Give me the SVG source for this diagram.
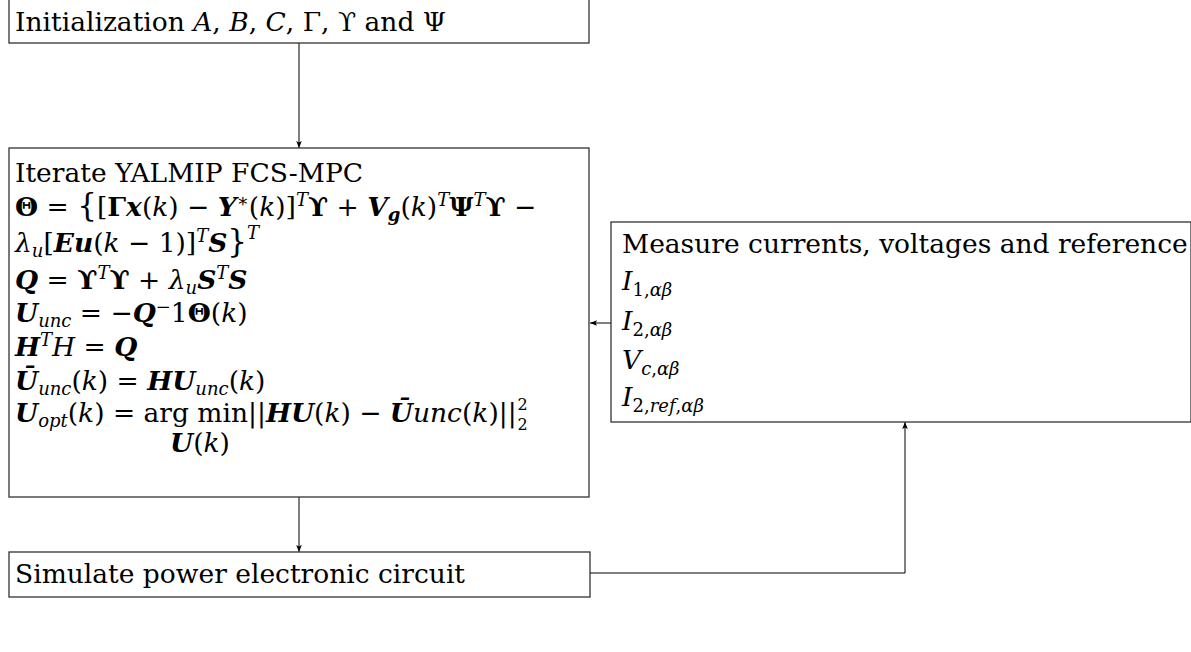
<svg xmlns="http://www.w3.org/2000/svg" width="1191" height="652" viewBox="0 0 1191 652">
<style>
.box{fill:#fff;stroke:#333;stroke-width:1.3}
.t{font-family:"DejaVu Serif",serif;font-size:26.5px;fill:#000}
.i{font-style:italic}
.b{font-weight:bold;font-style:italic}
.B{font-weight:bold}
.s{font-size:18px}
.c{fill:none;stroke:#000;stroke-width:1}
</style>
<defs>
<marker id="ah" viewBox="0 0 10 10" refX="10" refY="5" markerWidth="7" markerHeight="7" orient="auto" markerUnits="userSpaceOnUse">
<path d="M0,1 L10,5 L0,9 L2,5 Z" fill="#000"/>
</marker>
</defs>
<g id="connectors">
<line class="c" x1="299" y1="43" x2="299" y2="148" marker-end="url(#ah)"/>
<line class="c" x1="299" y1="497" x2="299" y2="552" marker-end="url(#ah)"/>
<polyline class="c" points="590,573 905,573 905,422" marker-end="url(#ah)"/>
<line class="c" x1="611" y1="323" x2="590" y2="323" marker-end="url(#ah)"/>
</g>
<g id="init">
<rect class="box" x="9" y="-1" width="580" height="44"/>
<text class="t" x="15" y="31">Initialization <tspan class="i">A</tspan>, <tspan class="i">B</tspan>, <tspan class="i">C</tspan>, Γ, ϒ and Ψ</text>
</g>
<g id="iterate">
<rect class="box" x="9" y="148" width="580" height="349"/>
<text class="t" x="15" y="182">Iterate YALMIP FCS-MPC</text>
<text class="t" x="15" y="216"><tspan class="B">Θ</tspan> = <tspan font-size="31">{</tspan>[<tspan class="B">Γ</tspan><tspan class="b">x</tspan>(<tspan class="i">k</tspan>) − <tspan class="b">Y</tspan><tspan class="s" baseline-shift="9">∗</tspan>(<tspan class="i">k</tspan>)]<tspan class="s i" baseline-shift="10">T</tspan><tspan class="B">ϒ</tspan> + <tspan class="b">V</tspan><tspan class="b s" baseline-shift="-5">g</tspan>(<tspan class="i">k</tspan>)<tspan class="s i" baseline-shift="10">T</tspan><tspan class="B">Ψ</tspan><tspan class="s i" baseline-shift="10">T</tspan><tspan class="B">ϒ</tspan> −</text>
<text class="t" x="15" y="252"><tspan class="i">λ</tspan><tspan class="s i" baseline-shift="-5">u</tspan>[<tspan class="b">Eu</tspan>(<tspan class="i">k</tspan> − 1)]<tspan class="s i" baseline-shift="10">T</tspan><tspan class="b">S</tspan><tspan font-size="31">}</tspan><tspan class="s i" baseline-shift="13">T</tspan></text>
<text class="t" x="15" y="289"><tspan class="b">Q</tspan> = <tspan class="B">ϒ</tspan><tspan class="s i" baseline-shift="10">T</tspan><tspan class="B">ϒ</tspan> + <tspan class="i">λ</tspan><tspan class="s i" baseline-shift="-5">u</tspan><tspan class="b">S</tspan><tspan class="s i" baseline-shift="10">T</tspan><tspan class="b">S</tspan></text>
<text class="t" x="15" y="322"><tspan class="b">U</tspan><tspan class="s i" baseline-shift="-5">unc</tspan> = −<tspan class="b">Q</tspan><tspan class="s" baseline-shift="9">−</tspan>1<tspan class="B">Θ</tspan>(<tspan class="i">k</tspan>)</text>
<text class="t" x="15" y="356"><tspan class="b">H</tspan><tspan class="s i" baseline-shift="10">T</tspan><tspan class="i">H</tspan> = <tspan class="b">Q</tspan></text>
<text class="t" x="15" y="390"><tspan class="b">Ū</tspan><tspan class="s i" baseline-shift="-5">unc</tspan>(<tspan class="i">k</tspan>) = <tspan class="b">HU</tspan><tspan class="s i" baseline-shift="-5">unc</tspan>(<tspan class="i">k</tspan>)</text>
<text class="t" x="15" y="422"><tspan class="b">U</tspan><tspan class="s i" baseline-shift="-5">opt</tspan>(<tspan class="i">k</tspan>) = arg min||<tspan class="b">HU</tspan>(<tspan class="i">k</tspan>) − <tspan class="b">Ū</tspan><tspan class="i">unc</tspan>(<tspan class="i">k</tspan>)||<tspan font-size="16" dy="-12" dx="1">2</tspan><tspan font-size="16" dy="20" dx="-10.2">2</tspan></text>
<text class="t" x="170" y="452" font-size="17"><tspan class="b">U</tspan>(<tspan class="i">k</tspan>)</text>
</g>
<g id="measure">
<rect class="box" x="611" y="222" width="580" height="200"/>
<text class="t" x="622" y="253">Measure currents, voltages and reference</text>
<text class="t" x="622" y="290"><tspan class="i">I</tspan><tspan class="s" baseline-shift="-6">1,<tspan class="i">αβ</tspan></tspan></text>
<text class="t" x="622" y="330"><tspan class="i">I</tspan><tspan class="s" baseline-shift="-6">2,<tspan class="i">αβ</tspan></tspan></text>
<text class="t" x="622" y="369"><tspan class="i">V</tspan><tspan class="s" baseline-shift="-6"><tspan class="i">c</tspan>,<tspan class="i">αβ</tspan></tspan></text>
<text class="t" x="622" y="406"><tspan class="i">I</tspan><tspan class="s" baseline-shift="-6">2,<tspan class="i">ref</tspan>,<tspan class="i">αβ</tspan></tspan></text>
</g>
<g id="simulate">
<rect class="box" x="9" y="552" width="581" height="45"/>
<text class="t" x="15" y="583">Simulate power electronic circuit</text>
</g>
</svg>
